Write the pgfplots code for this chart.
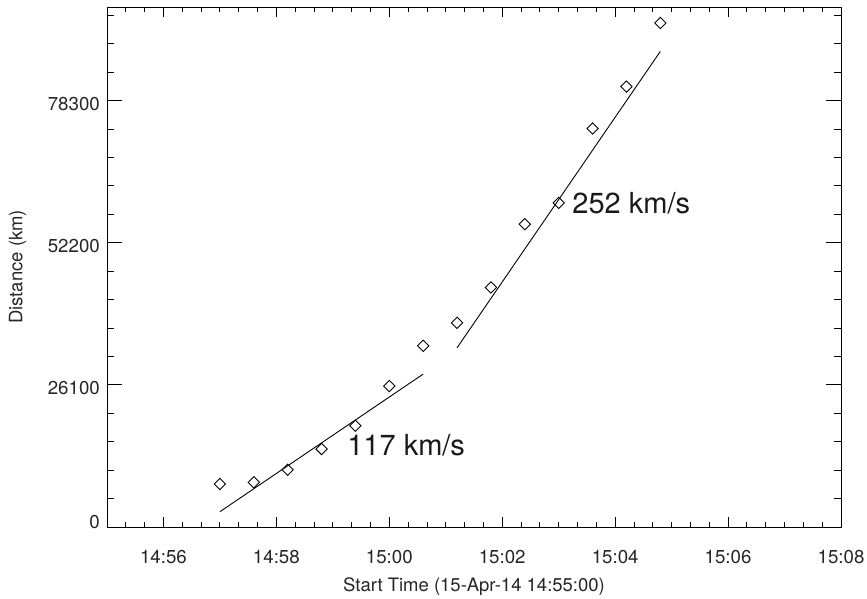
\documentclass[border=0pt]{standalone}
\usepackage{pgfplots}
\pgfplotsset{compat=1.18}
\usepackage{fontspec}
\setmainfont{TeX Gyre Heros}
\begin{document}
\begin{tikzpicture}
\begin{axis}[
  name=ax,
  scale only axis,
  width=734pt, height=520pt,
  xmin=0, xmax=780,
  ymin=0, ymax=95500,
  axis line style={line width=0.9pt},
  xtick={60,180,300,420,540,660,780},
  xticklabels={14:56,14:58,15:00,15:02,15:04,15:06,15:08},
  minor xtick={0,20,...,780},
  ytick={0,26100,52200,78300},
  yticklabels={\raisebox{17pt}{0},26100,52200,78300},
  minor ytick={5220,10440,...,95000},
  scaled y ticks=false,
  tick align=inside,
  xtick style={line width=0.9pt, black, /pgfplots/major tick length=10.4pt, /pgfplots/minor tick length=5.2pt},
  ytick style={line width=0.9pt, black, /pgfplots/major tick length=14.7pt, /pgfplots/minor tick length=7.3pt},
  tick label style={font=\fontsize{18.7}{20}\selectfont, text=black!85},
  xticklabel style={anchor=center, yshift=-29.7pt},
  yticklabel style={anchor=east, inner sep=0pt, xshift=-7pt, yshift=-3.5pt},
  xlabel={Start Time (15-Apr-14 14:55:00)},
  ylabel={Distance (km)},
  label style={font=\fontsize{18.5}{20}\selectfont, text=black!85},
  xlabel style={at={(axis description cs:0.5,-0.1154)}, anchor=center},
  ylabel style={at={(axis description cs:-0.1219,0.5)}, anchor=center},
  clip=false,
]
\addplot[only marks, mark=square, mark size=4pt, mark options={rotate=45, line width=0.9pt, draw=black, fill=none}]
coordinates {
(120,7893) (156,8204) (192,10517) (228,14317) (264,18593) (300,25880) (336,33277)
(372,37499) (408,43996) (444,55614) (480,59525) (516,73180) (552,80889) (588,92563)
};
\addplot[black, line width=0.9pt] coordinates {(120,2808) (336,28080)};
\addplot[black, line width=0.9pt] coordinates {(372,32910) (588,87342)};
\node[anchor=base west, inner sep=0pt, font=\fontsize{29}{32}\selectfont, text=black!90] at (axis cs:255.2,13215) {117 km/s};
\node[anchor=base west, inner sep=0pt, font=\fontsize{29}{32}\selectfont, text=black!90] at (axis cs:494.4,57578) {252 km/s};
\end{axis}
\pgfresetboundingbox
\path ([shift={(-107pt,-72pt)}]ax.south west) rectangle ([shift={(26pt,7pt)}]ax.north east);
\end{tikzpicture}
\end{document}
